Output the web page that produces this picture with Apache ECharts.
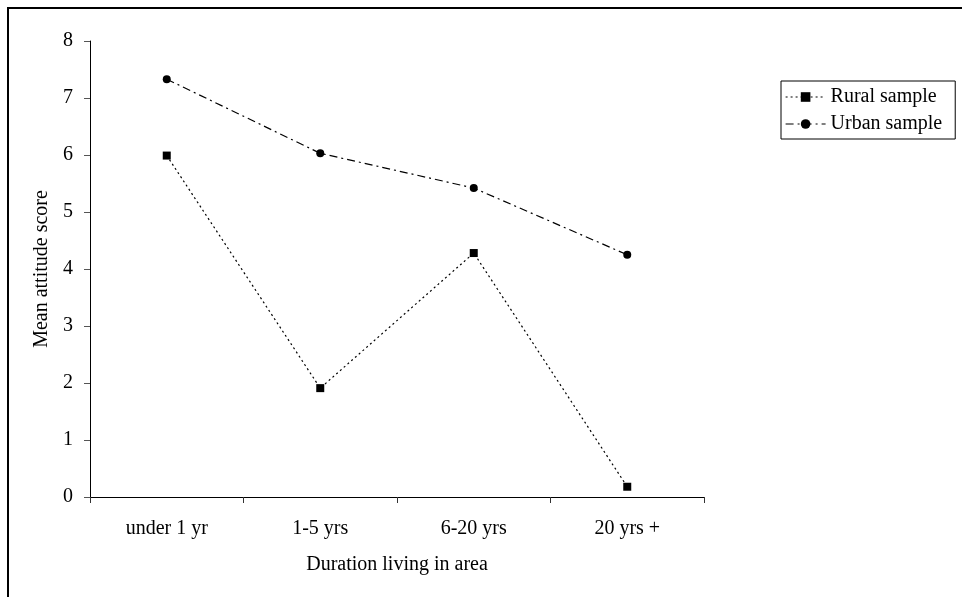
<!DOCTYPE html>
<html><head><meta charset="utf-8">
<script src="https://cdn.jsdelivr.net/npm/echarts@6/dist/echarts.min.js"></script>
<style>html,body{margin:0;padding:0;background:#fff}#c{width:962px;height:597px}</style>
</head><body><div id="c"></div>
<script>
const categories = ['under 1 yr', '1-5 yrs', '6-20 yrs', '20 yrs +'];
const ruralValues = [5.99, 1.91, 4.28, 0.18];
const urbanValues = [7.33, 6.03, 5.42, 4.25];
const yTicks = [0, 1, 2, 3, 4, 5, 6, 7, 8];
const seriesNames = ['Rural sample', 'Urban sample'];
const FONT = 'Liberation Serif';
const ruralDash = [2, 3];
const urbanDash = [8, 4, 2, 4];

const chart = echarts.init(document.getElementById('c'));
chart.setOption({
  animation: false,
  backgroundColor: '#fff',
  textStyle: { fontFamily: FONT, color: '#000' },
  grid: { left: 90, right: 258, top: 41, bottom: 100, containLabel: false },
  legend: {
    orient: 'vertical',
    left: 781, top: 81,
    padding: [6, 13, 5, 4],
    itemGap: 7,
    itemWidth: 40, itemHeight: 12,
    borderColor: '#000', borderWidth: 1, borderRadius: 0,
    backgroundColor: '#fff',
    textStyle: { fontFamily: FONT, fontSize: 20, color: '#000', lineHeight: 20 },
    data: [
      { name: seriesNames[0], lineStyle: { type: ruralDash, width: 1.2 } },
      { name: seriesNames[1], lineStyle: { type: urbanDash, width: 1.2 } }
    ]
  },
  xAxis: {
    type: 'category',
    data: categories,
    boundaryGap: true,
    name: 'Duration living in area',
    nameLocation: 'middle',
    nameGap: 58,
    nameTextStyle: { fontFamily: FONT, fontSize: 20, color: '#000' },
    axisLine: { lineStyle: { color: '#000', width: 1 } },
    axisTick: { show: true, length: 6, inside: false, lineStyle: { color: '#333' } },
    axisLabel: { fontFamily: FONT, fontSize: 20, color: '#000', margin: 22 },
    splitLine: { show: false }
  },
  yAxis: {
    type: 'value',
    min: yTicks[0], max: yTicks[yTicks.length - 1], interval: 1,
    name: 'Mean attitude score',
    nameLocation: 'middle',
    nameGap: 37,
    nameRotate: 90,
    nameTextStyle: { fontFamily: FONT, fontSize: 20, color: '#000' },
    axisLine: { show: true, lineStyle: { color: '#000', width: 1 } },
    axisTick: { show: true, length: 6, lineStyle: { color: '#555' } },
    axisLabel: { fontFamily: FONT, fontSize: 20, color: '#000', margin: 17 },
    splitLine: { show: false }
  },
  series: [
    {
      name: seriesNames[0], type: 'line', data: ruralValues,
      symbol: 'rect', symbolSize: 8,
      itemStyle: { color: '#000' },
      lineStyle: { color: '#000', width: 1.2, type: ruralDash }
    },
    {
      name: seriesNames[1], type: 'line', data: urbanValues,
      symbol: 'circle', symbolSize: 8,
      itemStyle: { color: '#000' },
      lineStyle: { color: '#000', width: 1.2, type: urbanDash }
    }
  ],
  graphic: [
    { type: 'rect', shape: { x: 8, y: 8, width: 2000, height: 2000 }, style: { fill: 'none', stroke: '#000', lineWidth: 2 }, silent: true, z: -1 }
  ]
});
</script></body></html>
